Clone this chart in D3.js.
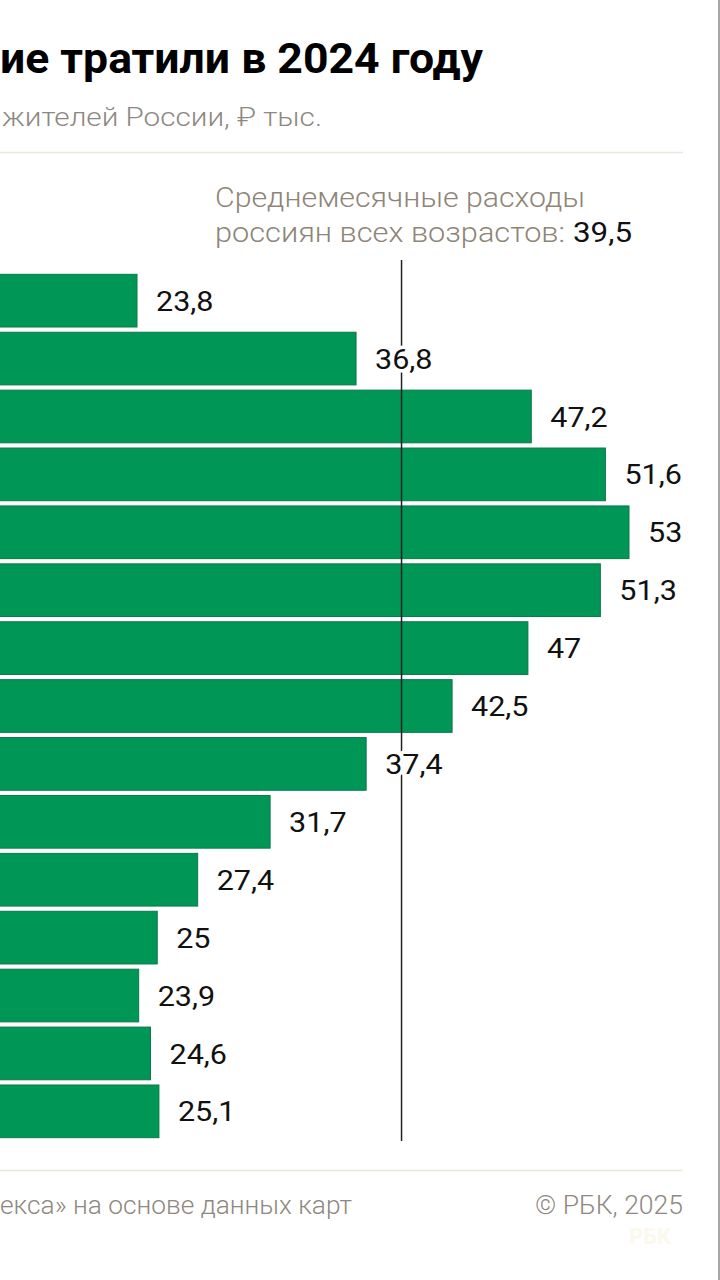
<!DOCTYPE html>
<html><head><meta charset="utf-8">
<script src="https://cdn.jsdelivr.net/npm/d3@7"></script>
<style>html,body{margin:0;padding:0;background:#fff;}svg{display:block;}</style>
</head><body>
<script>
const categories = ["до 18","18–20","21–24","25–29","30–34","35–39","40–44","45–49","50–54","55–59","60–64","65–69","70–74","75–79","80+"];
const values = [23.8,36.8,47.2,51.6,53,51.3,47,42.5,37.4,31.7,27.4,25,23.9,24.6,25.1];
const average = 39.5;
const titleText = "ие тратили в 2024 году";
const subtitleText = "жителей России, ₽ тыс.";
const noteLines = ["Среднемесячные расходы", "россиян всех возрастов: "];
const sourceText = "екса» на основе данных карт";
const copyrightText = "© РБК, 2025";

const W = 720, H = 1280;
const svg = d3.select("body").append("svg").attr("width", W).attr("height", H);
svg.append("rect").attr("width", W).attr("height", H).attr("fill", "#fff");

const fmt = v => String(v).replace(".", ",");
const x = d3.scaleLinear().domain([0, 53]).range([-264, 629]);
const y = d3.scaleBand().domain(categories).range([272, 1140]).paddingInner(0.09).paddingOuter(0.04);
const stretch = 1.09;

// title
svg.append("text").attr("x", 0).attr("y", 73).text(titleText)
  .attr("font-family", "Roboto").attr("font-weight", 700).attr("font-size", 42)
  .attr("fill", "#000").attr("textLength", 483).attr("lengthAdjust", "spacingAndGlyphs");
svg.append("text").attr("x", 2).attr("y", 126).text(subtitleText)
  .attr("font-family", "Roboto").attr("font-weight", 300).attr("font-size", 25)
  .attr("fill", "#8e8880").attr("textLength", 320).attr("lengthAdjust", "spacingAndGlyphs");
svg.append("line").attr("x1", 0).attr("x2", 683).attr("y1", 152.5).attr("y2", 152.5)
  .attr("stroke", "#ece7dc").attr("stroke-width", 1.5);

// annotation
svg.append("text").attr("x", 215).attr("y", 207).text(noteLines[0])
  .attr("font-family", "Roboto").attr("font-weight", 300).attr("font-size", 27).attr("fill", "#8e8577")
  .attr("textLength", 370).attr("lengthAdjust", "spacingAndGlyphs");
svg.append("text").attr("x", 215).attr("y", 242).text(noteLines[1])
  .attr("font-family", "Roboto").attr("font-weight", 300).attr("font-size", 27).attr("fill", "#8e8577")
  .attr("textLength", 350).attr("lengthAdjust", "spacingAndGlyphs");
svg.append("text").attr("x", 573).attr("y", 242).text(fmt(average))
  .attr("font-family", "Roboto").attr("font-weight", 400).attr("font-size", 27).attr("fill", "#111")
  .attr("textLength", 59).attr("lengthAdjust", "spacingAndGlyphs");

// bars
svg.append("g").selectAll("rect").data(values).join("rect")
  .attr("x", x(0)).attr("y", (d, i) => y(categories[i]))
  .attr("width", d => x(d) - x(0)).attr("height", y.bandwidth())
  .attr("fill", "#009656").attr("stroke", "#087a47").attr("stroke-width", 1);

// average line
svg.append("line").attr("x1", x(average)).attr("x2", x(average)).attr("y1", 260).attr("y2", 1141)
  .attr("stroke", "#222").attr("stroke-width", 1.5);

// value labels
svg.append("g").selectAll("text").data(values).join("text")
  .attr("transform", (d, i) => `translate(${x(d) + 19},${y(categories[i]) + y.bandwidth() / 2}) scale(${stretch},1)`)
  .attr("dy", "0.36em").text(d => fmt(d))
  .attr("font-family", "Roboto").attr("font-weight", 400).attr("font-size", 28).attr("fill", "#111")
  .attr("stroke", "#fff").attr("stroke-width", 7).attr("paint-order", "stroke").attr("stroke-linejoin", "round");

// footer
svg.append("line").attr("x1", 0).attr("x2", 683).attr("y1", 1170.5).attr("y2", 1170.5)
  .attr("stroke", "#ece7dc").attr("stroke-width", 1.5);
svg.append("text").attr("x", 0).attr("y", 1214).text(sourceText)
  .attr("font-family", "Roboto").attr("font-weight", 300).attr("font-size", 25).attr("fill", "#8e8880")
  .attr("textLength", 352).attr("lengthAdjust", "spacingAndGlyphs");
svg.append("text").attr("x", 535).attr("y", 1214).text(copyrightText)
  .attr("font-family", "Roboto").attr("font-weight", 300).attr("font-size", 25).attr("fill", "#8e8880")
  .attr("textLength", 148).attr("lengthAdjust", "spacingAndGlyphs");
svg.append("text").attr("x", 650).attr("y", 1244).attr("text-anchor", "middle").text("РБК")
  .attr("font-family", "Roboto").attr("font-weight", 700).attr("font-size", 22).attr("fill", "#fbf8ec");

// right border
svg.append("line").attr("x1", 719).attr("x2", 719).attr("y1", 0).attr("y2", H)
  .attr("stroke", "#8a8a8a").attr("stroke-width", 1.5);
</script>
</body></html>
